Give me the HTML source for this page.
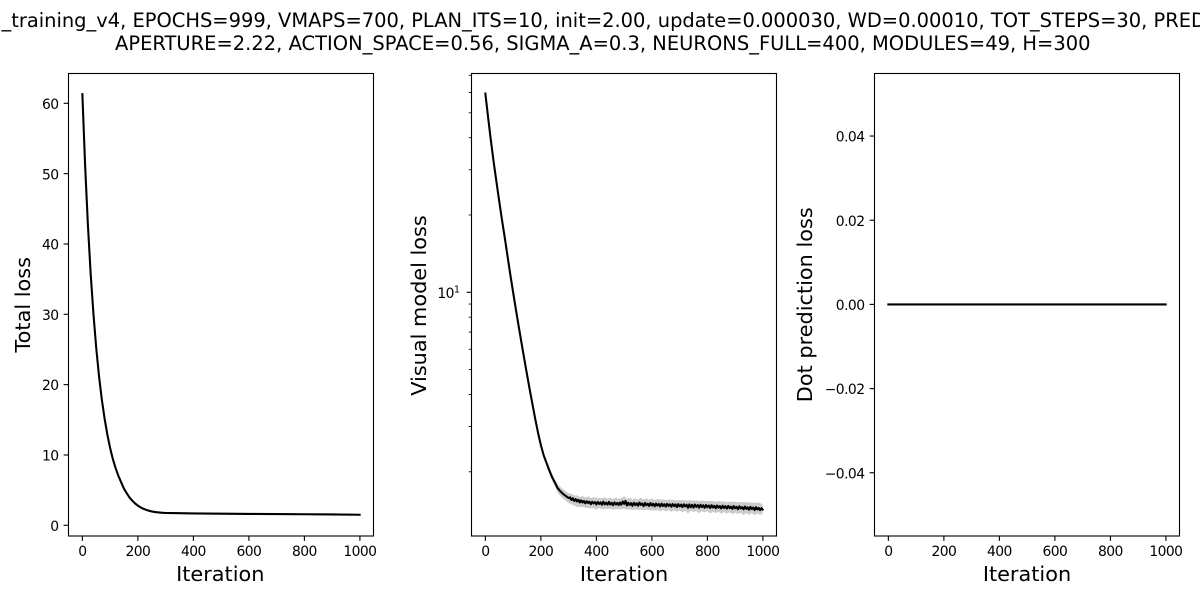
<!DOCTYPE html>
<html lang="en">
<head>
<meta charset="utf-8">
<title>Training loss chart</title>
<style>
html,body{margin:0;padding:0;background:#fff;width:1200px;height:600px;overflow:hidden}
svg{display:block}
text{font-family:"DejaVu Sans","Liberation Sans",sans-serif;fill:#000}
.tick{font-size:13.89px;letter-spacing:-0.55px}
.lab{font-size:20.83px}
.ttl{font-size:19.44px}
</style>
</head>
<body>
<svg id="chart" width="1200" height="600" viewBox="0 0 1200 600" xmlns="http://www.w3.org/2000/svg">
  <text class="ttl" x="1.5" y="27">_training_v4, EPOCHS=999, VMAPS=700, PLAN_ITS=10, init=2.00, update=0.000030, WD=0.00010, TOT_STEPS=30, PRED</text>
  <text class="ttl" x="115" y="50" textLength="975.5" lengthAdjust="spacing">APERTURE=2.22, ACTION_SPACE=0.56, SIGMA_A=0.3, NEURONS_FULL=400, MODULES=49, H=300</text>
</svg>
<script>
const xTickValues = [0, 200, 400, 600, 800, 1000];
const totalTickValues = [0, 10, 20, 30, 40, 50, 60];
const dotTickValues = [-0.04, -0.02, 0, 0.02, 0.04];
const dotTickLabels = ['\u22120.04', '\u22120.02', '0.00', '0.02', '0.04'];
const visualMinorTicks = [2, 3, 4, 5, 6, 7, 8, 9, 20, 30, 40, 50, 60, 70];
const visualMajorTicks = [10];

const totalIterations = [0,10,20,30,40,50,60,70,80,90,100,110,120,130,140,150,160,170,180,190,200,210,220,230,240,250,260,270,280,290,300,350,400,500,600,700,800,900,999];
const totalLoss = [61.3,51.1,42.7,35.7,30.0,25.2,21.2,17.9,15.2,12.9,11.0,9.4,8.1,7.0,6.1,5.2,4.55,3.95,3.5,3.1,2.8,2.55,2.35,2.2,2.07,1.97,1.9,1.85,1.81,1.78,1.76,1.72,1.69,1.65,1.62,1.6,1.57,1.54,1.5];
const totalBandIterations = [300,400,500,600,700,800,900,999];
const totalBandSpread = [0.05,0.12,0.14,0.14,0.14,0.15,0.15,0.15];
const totalBandCenter = [1.76,1.69,1.65,1.62,1.6,1.57,1.54,1.5];

const visualIterations = [0,10,20,30,40,50,60,70,80,90,100,110,120,130,140,150,160,170,180,190,200,210,220,230,240,250,260,270,280,290,300,
305,310,315,320,325,330,335,340,345,350,355,360,365,370,375,380,385,390,395,400,
405,410,415,420,425,430,435,440,445,450,455,460,465,470,475,480,485,490,495,500,
505,510,515,520,525,530,535,540,545,550,555,560,565,570,575,580,585,590,595,600,
605,610,615,620,625,630,635,640,645,650,655,660,665,670,675,680,685,690,695,700,
705,710,715,720,725,730,735,740,745,750,755,760,765,770,775,780,785,790,795,800,
805,810,815,820,825,830,835,840,845,850,855,860,865,870,875,880,885,890,895,900,
905,910,915,920,925,930,935,940,945,950,955,960,965,970,975,980,985,990,995,999];
const visualLoss = [59.4,47.9,38.9,32.1,26.9,22.6,19.1,16.3,13.8,11.7,10.0,8.57,7.38,6.37,5.52,4.79,4.17,3.65,3.20,2.83,2.54,2.32,2.17,2.03,1.91,1.82,1.73,1.68,1.64,1.61,1.58,
1.590,1.552,1.578,1.540,1.566,1.532,1.556,1.520,1.548,1.518,1.540,1.508,1.536,1.512,1.530,1.496,1.528,1.506,1.524,1.492,
1.526,1.500,1.520,1.488,1.530,1.494,1.516,1.490,1.526,1.492,1.514,1.482,1.520,1.492,1.512,1.484,1.518,1.490,1.532,1.500,
1.540,1.480,1.516,1.486,1.510,1.474,1.514,1.484,1.508,1.476,1.518,1.486,1.506,1.470,1.512,1.482,1.502,1.472,1.510,1.478,
1.502,1.468,1.504,1.476,1.498,1.466,1.502,1.472,1.496,1.464,1.500,1.472,1.494,1.462,1.498,1.470,1.492,1.458,1.496,1.468,
1.490,1.458,1.494,1.466,1.488,1.448,1.492,1.456,1.486,1.452,1.490,1.460,1.484,1.450,1.488,1.458,1.482,1.448,1.484,1.456,
1.478,1.446,1.482,1.452,1.474,1.442,1.478,1.450,1.470,1.440,1.476,1.446,1.468,1.438,1.472,1.444,1.464,1.434,1.470,1.442,
1.460,1.430,1.468,1.440,1.456,1.428,1.464,1.434,1.454,1.424,1.460,1.432,1.450,1.418,1.456,1.428,1.446,1.418,1.444,1.426];

const visualBandIterations = [100,110,120,130,140,150,160,170,180,190,200,210,220,230,240,250,260,270,280,290,300,
310,320,330,340,350,360,370,380,390,400,410,420,430,440,450,460,470,480,490,500,
510,520,530,540,550,560,570,580,590,600,610,620,630,640,650,660,670,680,690,700,
710,720,730,740,750,760,770,780,790,800,810,820,830,840,850,860,870,880,890,900,
910,920,930,940,950,960,970,980,990,999];
const visualBandCenter = [10.0,8.57,7.38,6.37,5.52,4.79,4.17,3.65,3.20,2.83,2.54,2.32,2.17,2.03,1.91,1.82,1.73,1.68,1.64,1.61,1.58,
1.570,1.548,1.541,1.528,1.534,1.519,1.525,1.509,1.518,1.507,1.515,1.501,1.512,1.503,1.509,1.497,1.508,1.499,1.505,1.522,
1.497,1.506,1.490,1.501,1.493,1.505,1.488,1.499,1.486,1.496,1.484,1.493,1.482,1.490,1.478,1.488,1.476,1.485,1.473,1.483,
1.471,1.482,1.462,1.480,1.468,1.478,1.459,1.476,1.465,1.472,1.458,1.470,1.455,1.468,1.452,1.464,1.450,1.461,1.447,1.459,
1.445,1.456,1.441,1.453,1.437,1.451,1.434,1.447,1.436,1.430];
const visualSpread = [0.02,0.02,0.02,0.03,0.03,0.03,0.04,0.04,0.04,0.05,0.05,0.05,0.05,0.06,0.06,0.06,0.07,0.07,0.07,0.07,0.07,
0.075,0.07,0.08,0.07,0.075,0.07,0.08,0.07,0.075,0.08,0.07,0.075,0.08,0.07,0.075,0.07,0.08,0.07,0.075,0.085,
0.07,0.08,0.07,0.075,0.07,0.08,0.07,0.075,0.07,0.08,0.07,0.075,0.08,0.07,0.075,0.07,0.08,0.07,0.075,0.07,
0.08,0.07,0.085,0.07,0.075,0.07,0.08,0.07,0.075,0.07,0.08,0.07,0.075,0.07,0.08,0.07,0.075,0.07,0.08,0.07,
0.075,0.07,0.085,0.07,0.08,0.07,0.08,0.07,0.075,0.06];

const dotIterations = [0, 999];
const dotLoss = [0, 0];

const svg = document.getElementById('chart');
const NS = 'http://www.w3.org/2000/svg';
const axTop = 73.5, axBottom = 536, axWidth = 305;

function mk(tag, attrs, parent) {
  const e = document.createElementNS(NS, tag);
  for (const k in attrs) e.setAttribute(k, attrs[k]);
  (parent || svg).appendChild(e);
  return e;
}
function xAxis(left) {
  return function (v) { return left + axWidth * (v + 49.95) / 1098.9; };
}
const yTotal = v => 525.3 - 7.033 * v;
const yVisual = v => 292.3 - 256.8 * (Math.log10(v) - 1);
const yDot = v => 304.4 - 4209 * v;

function pathOf(xs, ys, fx, fy) {
  return xs.map((v, i) => (i ? 'L' : 'M') + fx(v).toFixed(2) + ' ' + fy(ys[i]).toFixed(2)).join('');
}
function bandPoints(xs, center, spread, fx, fy) {
  const upper = xs.map((v, i) => fx(v).toFixed(2) + ',' + fy(center[i] + spread[i]).toFixed(2));
  const lower = xs.map((v, i) => fx(v).toFixed(2) + ',' + fy(center[i] - spread[i]).toFixed(2)).reverse();
  return upper.concat(lower).join(' ');
}

function drawFrame(left, labelShift, g) {
  const fx = xAxis(left);
  xTickValues.forEach(function (v) {
    const t = mk('line', {x1: fx(v), x2: fx(v), y1: axBottom, y2: axBottom + 4.86, stroke: '#000', 'stroke-width': 1.11}, g);
    
    
    const l = mk('text', {class: 'tick', x: fx(v), y: 556, 'text-anchor': 'middle'}, g);
    
    
    l.textContent = v;
  });
  const xl = mk('text', {class: 'lab', x: left + axWidth / 2 + labelShift, y: 581, 'text-anchor': 'middle'}, g);
  
  
  xl.textContent = 'Iteration';
}
function drawBorder(left, g) {
  const b = mk('rect', {x: left, y: axTop, width: axWidth, height: axBottom - axTop, fill: 'none', stroke: '#000', 'stroke-width': 1.11}, g);
  
  
}
function yTick(left, y, len, g) {
  const t = mk('line', {x1: left - len, x2: left, y1: y, y2: y, stroke: '#000', 'stroke-width': len > 3 ? 1.11 : 0.84}, g);
  
  
}
function yLabel(left, y, txt, g) {
  const l = mk('text', {class: 'tick', x: left - 10, y: y + 5.6, 'text-anchor': 'end'}, g);
  
  
  l.textContent = txt;
  return l;
}
function yTitle(x, cy, txt, g) {
  const l = mk('text', {class: 'lab', x: 0, y: 0, 'text-anchor': 'middle', transform: 'translate(' + x + ',' + cy + ') rotate(-90)'}, g);
  
  
  l.textContent = txt;
}
function drawLine(d, g) {
  const p = mk('path', {d: d, fill: 'none', stroke: '#000', 'stroke-width': 2.08, 'stroke-linejoin': 'round', 'stroke-linecap': 'square'}, g);
  
  
}

/* Panel 1 */
const g1 = mk('g', {});


drawFrame(68.5, -0.7, g1);
totalTickValues.forEach(function (v) {
  yTick(68.5, yTotal(v), 4.86, g1);
  yLabel(68.5, yTotal(v), String(v), g1);
});
yTitle(30, 304.75, 'Total loss', g1);
const band1 = mk('polygon', {points: bandPoints(totalBandIterations, totalBandCenter, totalBandSpread, xAxis(68.5), yTotal), fill: '#000', 'fill-opacity': 0.2}, g1);


drawLine(pathOf(totalIterations, totalLoss, xAxis(68.5), yTotal), g1);
drawBorder(68.5, g1);

/* Panel 2 */
const g2 = mk('g', {});


drawFrame(471.5, 0, g2);
visualMinorTicks.forEach(function (v) {
  yTick(471.5, yVisual(v), 2.78, g2);
});
visualMajorTicks.forEach(function (v) {
  yTick(471.5, yVisual(v), 4.86, g2);
  const l = yLabel(471.5, yVisual(v), '', g2);
  l.setAttribute('x', 459.5);
  const base = mk('tspan', {}, l);
  base.textContent = '10';
  const sup = mk('tspan', {dy: -5.5, 'font-size': '9.7px'}, l);
  sup.textContent = String(Math.log10(v));
});
yTitle(426, 305.5, 'Visual model loss', g2);
const fx2 = xAxis(471.5);
const band2 = mk('polygon', {points: bandPoints(visualBandIterations, visualBandCenter, visualSpread, fx2, yVisual), fill: '#000', 'fill-opacity': 0.2}, g2);


drawLine(pathOf(visualIterations, visualLoss, fx2, yVisual), g2);
drawBorder(471.5, g2);

/* Panel 3 */
const g3 = mk('g', {});


drawFrame(874.5, 0, g3);
dotTickValues.forEach(function (v, i) {
  yTick(874.5, yDot(v), 4.86, g3);
  yLabel(874.5, yDot(v), dotTickLabels[i], g3);
});
yTitle(812, 304.75, 'Dot prediction loss', g3);
drawLine(pathOf(dotIterations, dotLoss, xAxis(874.5), yDot), g3);
drawBorder(874.5, g3);
</script>
</body>
</html>
